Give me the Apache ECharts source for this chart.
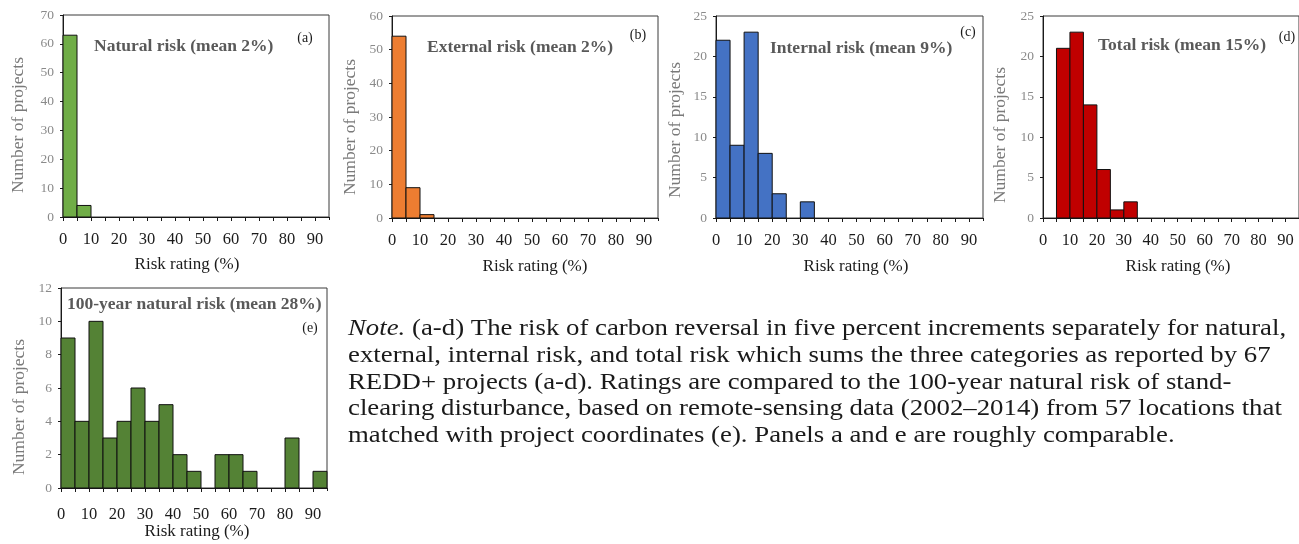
<!DOCTYPE html>
<html>
<head>
<meta charset="utf-8">
<script src="https://cdn.jsdelivr.net/npm/echarts@6/dist/echarts.min.js"></script>
<style>
html,body{margin:0;padding:0;background:#fff;}
#chart{width:1299px;height:544px;}
</style>
</head>
<body>
<div id="chart"></div>
<script>
// Bin starts (5% increments); each bin spans [start, start+5)
const binStarts = [0,5,10,15,20,25,30,35,40,45,50,55,60,65,70,75,80,85,90];
const binWidth = 5;
const xTickLabels = [0,10,20,30,40,50,60,70,80,90];

const naturalRisk  = [63,4,0,0,0,0,0,0,0,0,0,0,0,0,0,0,0,0,0];
const externalRisk = [54,9,1,0,0,0,0,0,0,0,0,0,0,0,0,0,0,0,0];
const internalRisk = [22,9,23,8,3,0,2,0,0,0,0,0,0,0,0,0,0,0,0];
const totalRisk    = [0,21,23,14,6,1,2,0,0,0,0,0,0,0,0,0,0,0,0];
const natural100   = [9,4,10,3,4,6,4,5,2,1,0,2,2,1,0,0,3,0,1];

const panelTitles = ['Natural risk (mean 2%)','External risk (mean 2%)','Internal risk (mean 9%)','Total risk (mean 15%)','100-year natural risk (mean 28%)'];
const panelLetters = ['(a)','(b)','(c)','(d)','(e)'];
const xAxisTitle = 'Risk rating (%)';
const yAxisTitle = 'Number of projects';
const yMax = [70,60,25,25,12];
const yStep = [10,10,5,5,2];

const noteLines = [
  '{i|Note.} (a-d) The risk of carbon reversal in five percent increments separately for natural,',
  'external, internal risk, and total risk which sums the three categories as reported by 67',
  'REDD+ projects (a-d). Ratings are compared to the 100-year natural risk of stand-',
  'clearing disturbance, based on remote-sensing data (2002\u20132014) from 57 locations that',
  'matched with project coordinates (e). Panels a and e are roughly comparable.'
];

const FONT = 'Liberation Serif';
const colors = ['#70AD47','#ED7D31','#4472C4','#C00000','#548235'];
const seriesData = [naturalRisk, externalRisk, internalRisk, totalRisk, natural100];

// layout (pixels)
const grids = [
  {left:63,  top:15,  width:266, height:202},
  {left:392, top:16,  width:266, height:202},
  {left:716, top:16,  width:267, height:202},
  {left:1043,top:16,  width:267, height:202},
  {left:61,  top:288, width:266, height:200}
];
const labelMargin = [14,14,14,14,18];
const titlePos = [[94,46],[427,47],[770,48],[1098,45],[67,304]];
const letterPos = [[305,38],[638,35],[968,32],[1287,37],[310,328]];
const xNamePos = [[187,265],[535,267],[856,267],[1178,267],[197,532]];
const yNamePos = [[18,125],[350,127],[675,130],[1000,135],[19,407]];

const chart = echarts.init(document.getElementById('chart'), null, {renderer:'canvas'});

const xAxes = [], yAxes = [];
grids.forEach((g,i) => {
  xAxes.push({
    gridIndex:i, type:'value', min:0, max:95, interval:5,
    axisLine:{show:true, lineStyle:{color:'#1a1a1a', width:1}},
    axisTick:{show:true, length:4, lineStyle:{color:'#1a1a1a'}},
    splitLine:{show:false},
    axisLabel:{fontFamily:FONT, fontSize:16.5, color:'#1a1a1a', margin:labelMargin[i],
      showMaxLabel:false,
      formatter: v => xTickLabels.indexOf(v) >= 0 ? String(v) : ''}
  });
  yAxes.push({
    gridIndex:i, type:'value', min:0, max:yMax[i], interval:yStep[i],
    axisLine:{show:true, lineStyle:{color:'#1a1a1a', width:1}},
    axisTick:{show:true, length:3, lineStyle:{color:'#1a1a1a'}},
    splitLine:{show:false},
    axisLabel:{fontFamily:FONT, fontSize:13.5, color:'#8a8a8a', margin:9}
  });
});
// companion axes providing the inner half of the crossing tick marks
grids.forEach((g,i) => {
  xAxes.push({gridIndex:i, type:'value', min:0, max:95, interval:5,
    axisLine:{show:false}, axisTick:{show:true, inside:true, length:3, lineStyle:{color:'#1a1a1a'}},
    axisLabel:{show:false}, splitLine:{show:false}});
  yAxes.push({gridIndex:i, type:'value', min:0, max:yMax[i], interval:yStep[i],
    axisLine:{show:false}, axisTick:{show:true, inside:true, length:3, lineStyle:{color:'#1a1a1a'}},
    axisLabel:{show:false}, splitLine:{show:false}});
});

const option = {
  backgroundColor:'#fff',
  animation:false,
  grid: grids.map(g => Object.assign({show:true, borderColor:'#3a3a3a', borderWidth:1, backgroundColor:'transparent'}, g)),
  xAxis: xAxes,
  yAxis: yAxes,
  series: seriesData.map((vals,i) => ({
    type:'custom',
    xAxisIndex:i, yAxisIndex:i,
    encode:{x:[0,1], y:2},
    z:1,
    data: binStarts.map((b,k) => [b, b+binWidth, vals[k]]),
    renderItem: function(params, api){
      const y = api.value(2);
      if (!y) return null;
      const p0 = api.coord([api.value(0), y]);
      const p1 = api.coord([api.value(1), 0]);
      return {type:'rect',
        shape:{x:p0[0], y:p0[1], width:p1[0]-p0[0], height:p1[1]-p0[1]},
        style:{fill:colors[i], stroke:'#111', lineWidth:1}};
    }
  })),
  graphic: [].concat(
    panelTitles.map((t,i) => ({type:'text', x:titlePos[i][0], y:titlePos[i][1],
      style:{text:t, fontFamily:FONT, fontSize:17.5, fontWeight:'bold', fill:'#595959', verticalAlign:'middle'}})),
    panelLetters.map((t,i) => ({type:'text', x:letterPos[i][0], y:letterPos[i][1],
      style:{text:t, fontFamily:FONT, fontSize:14, fill:'#1a1a1a', align:'center', verticalAlign:'middle'}})),
    xNamePos.map(p => ({type:'text', x:p[0], y:p[1],
      style:{text:xAxisTitle, fontFamily:FONT, fontSize:17, fill:'#1a1a1a', align:'center', verticalAlign:'middle'}})),
    yNamePos.map(p => ({type:'text', x:p[0], y:p[1], rotation:Math.PI/2,
      style:{text:yAxisTitle, fontFamily:FONT, fontSize:17.5, fill:'#7a7a7a', align:'center', verticalAlign:'middle'}})),
    noteLines.map((t,i) => ({type:'text', x:348, y:329 + i*26.8, scaleX:1.165,
      style:{text:t, fontFamily:FONT, fontSize:23, fill:'#1a1a1a', verticalAlign:'middle',
        rich:{i:{fontStyle:'italic', fontFamily:FONT, fontSize:23, fill:'#1a1a1a'}}}}))
  )
};
chart.setOption(option);
</script>
</body>
</html>
